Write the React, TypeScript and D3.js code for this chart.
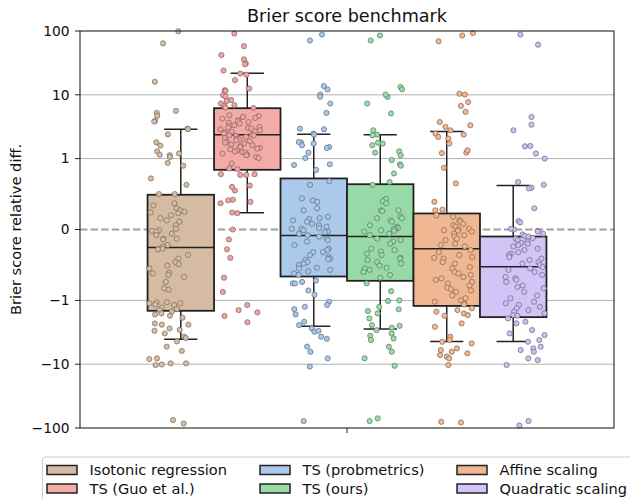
import React from "react";
import * as d3 from "d3";

// methods (hue order) and their pastel colours
const methods = [
  "Isotonic regression",
  "TS (Guo et al.)",
  "TS (probmetrics)",
  "TS (ours)",
  "Affine scaling",
  "Quadratic scaling",
];
const palette = ["#debb9b", "#ff9f9b", "#a1c9f4", "#8de5a1", "#ffb482", "#d0bbff"];

// box statistics
const q1 = [-1.455, 0.842, -0.663, -0.724, -1.22, -1.83];
const medians = [-0.254, 2.36, -0.085, -0.099, -0.272, -0.526];
const q3 = [0.49, 6.17, 0.72, 0.639, 0.226, -0.099];
const whiskerLow = [-4.05, 0.236, -2.54, -2.82, -4.41, -4.41];
const whiskerHigh = [2.89, 21.8, 2.41, 2.36, 2.66, 0.62];

// strip points (relative diff per dataset)
const isotonic = [
  99, 64, 16, 5.6, 5.2, 4.7, 3.9, 3.8, 2.95, 2.9, 2.4, 1.8, 1.6, 1.3, 1.2, 1.15, 1.13, 1.06, 0.94, 0.9, 0.72,
  0.63, 0.5, 0.5, 0.37, 0.34, 0.3, 0.27, 0.25, 0.24, 0.23, 0.2, 0.16, 0.13, 0.11, 0.06, 0.01, -0.01, -0.02,
  -0.03, -0.06, -0.08, -0.13, -0.13, -0.14, -0.22, -0.24, -0.27, -0.28, -0.36, -0.41, -0.46, -0.49, -0.51,
  -0.55, -0.61, -0.62, -0.64, -0.67, -0.74, -0.83, -0.85, -1.07, -1.07, -1.11, -1.11, -1.16, -1.18, -1.3,
  -1.37, -1.42, -1.5, -1.6, -1.66, -1.74, -1.87, -2.3, -2.4, -2.4, -2.75, -2.9, -3.0, -3.3, -3.7, -3.9, -4.4,
  -5.3, -6.2, -8.1, -8.3, -9.7, -9.7, -10.1, -10.3, -75, -85,
];
const tsGuo = [
  91, 58, 42, 36, 31, 30, 24, 21.5, 20.7, 17, 12.5, 11.8, 11.5, 9.9, 9.4, 8.3, 8.0, 7.3, 6.9, 6.7, 6.3, 6.2,
  4.78, 4.66, 4.5, 4.34, 4.24, 3.99, 3.85, 3.75, 3.66, 3.54, 3.33, 3.25, 3.14, 3.06, 3.02, 2.95, 2.88, 2.78,
  2.68, 2.62, 2.56, 2.46, 2.38, 2.32, 2.32, 2.27, 2.19, 2.11, 2.06, 2.01, 1.94, 1.87, 1.82, 1.78, 1.72, 1.66,
  1.62, 1.58, 1.52, 1.47, 1.43, 1.4, 1.35, 1.3, 1.27, 1.24, 1.2, 1.16, 1.13, 1.06, 1.02, 0.93, 0.86, 0.85,
  0.77, 0.77, 0.78, 0.78, 0.62, 0.55, 0.6, 0.39, 0.42, 0.37, 0.41, 0.24, 0.23, 0.0, -0.14, -0.28, -0.4,
  -0.68, -0.88, -1.18, -1.42, -1.54, -1.76, -2.2,
];
const tsProbmetrics = [
  88, 71, 13.7, 12.1, 10.1, 9.3, 7.3, 5.2, 2.95, 2.88, 2.46, 2.38, 1.78, 1.82, 1.72, 1.62, 1.52, 1.47, 1.24,
  1.02, 0.92, 0.91, 0.84, 0.68, 0.63, 0.44, 0.41, 0.39, 0.3, 0.27, 0.18, 0.16, 0.15, 0.13, 0.11, 0.08, 0.06,
  0.04, 0.02, 0.01, 0.01, -0.01, -0.03, -0.04, -0.06, -0.08, -0.1, -0.13, -0.15, -0.17, -0.22, -0.27, -0.29,
  -0.32, -0.32, -0.36, -0.39, -0.41, -0.42, -0.43, -0.46, -0.48, -0.5, -0.54, -0.55, -0.57, -0.59, -0.62,
  -0.64, -0.76, -0.76, -0.86, -0.92, -0.74, -0.72, -1.05, -1.18, -1.26, -1.37, -1.66, -2.16, -2.44, -2.75,
  -3.1, -3.0, -3.7, -4.0, -5.3, -6.4, -8.1, -10.9, -78,
];
const tsOurs = [
  85, 71, 13.3, 12.2, 9.3, 10.1, 7.3, 5.1, 2.78, 2.38, 2.32, 1.78, 1.72, 1.62, 1.3, 1.24, 1.13, 0.98, 0.92,
  0.9, 0.79, 0.67, 0.63, 0.43, 0.4, 0.37, 0.27, 0.26, 0.27, 0.18, 0.16, 0.16, 0.13, 0.11, 0.06, 0.04, 0.02,
  0.01, 0.005, -0.01, -0.02, -0.03, -0.06, -0.08, -0.13, -0.15, -0.17, -0.2, -0.27, -0.29, -0.31, -0.34,
  -0.36, -0.4, -0.41, -0.43, -0.46, -0.48, -0.51, -0.54, -0.55, -0.57, -0.6, -0.64, -0.68, -0.76, -0.87,
  -1.0, -1.02, -1.26, -1.38, -1.47, -1.6, -1.92, -2.44, -2.5, -2.68, -2.92, -3.29, -3.58, -3.94, -4.18,
  -5.32, -6.37, -8.1, -10.6, -70.6, -78,
];
const affine = [
  93, 85, 69, 10.4, 10.1, 7.7, 6.7, 5.4, 3.75, 3.33, 3.14, 2.78, 2.46, 2.38, 2.19, 2.06, 1.72, 1.24, 1.22,
  1.35, 0.87, 0.65, 0.39, 0.28, 0.27, 0.2, 0.18, 0.13, 0.11, 0.08, 0.06, 0.04, 0.01, 0.0, -0.01, -0.02,
  -0.03, -0.06, -0.08, -0.1, -0.13, -0.15, -0.2, -0.22, -0.24, -0.29, -0.32, -0.36, -0.39, -0.4, -0.41,
  -0.46, -0.48, -0.53, -0.55, -0.6, -0.62, -0.64, -0.67, -0.69, -0.71, -0.74, -0.76, -0.79, -0.82, -0.84,
  -0.86, -0.88, -0.93, -0.97, -1.0, -1.05, -1.11, -1.16, -1.33, -1.42, -1.5, -1.6, -1.7, -1.74, -2.59, -2.29,
  -3.71, -4.18, -4.45, -4.72, -5.65, -6.0, -6.37, -6.76, -7.18, -7.62, -8.1, -10.3, -80, -82,
];
const quadratic = [
  88, 61, 4.5, 3.4, 2.78, 1.58, 1.56, 1.2, 1.0, 0.67, 0.63, 0.59, 0.58, 0.3, 0.12, 0.1, 0.0, -0.02, 0.01,
  -0.03, -0.06, -0.07, -0.09, -0.1, -0.12, -0.13, -0.15, -0.17, -0.19, -0.2, -0.22, -0.24, -0.27, -0.29,
  -0.32, -0.34, -0.36, -0.39, -0.41, -0.43, -0.46, -0.48, -0.5, -0.53, -0.55, -0.57, -0.6, -0.64, -0.67,
  -0.69, -0.71, -0.74, -0.79, -0.81, -0.83, -0.88, -0.93, -0.97, -1.05, -1.11, -1.18, -1.26, -1.33, -1.42,
  -1.5, -1.6, -1.7, -1.74, -1.92, -2.16, -2.29, -2.92, -3.29, -3.49, -4.18, -4.45, -5.32, -5.65, -6.0, -6.37,
  -8.1, -8.6, -10.3, -78, -91,
];
const seriesPoints = [isotonic, tsGuo, tsProbmetrics, tsOurs, affine, quadratic];

const yTicks = [-100, -10, -1, 0, 1, 10, 100];
const yGrid = [-10, -1, 1, 10];

const WIDTH = 630;
const HEIGHT = 499;
const MARGIN = { top: 31, right: 16, bottom: 71, left: 80 };
const FONT = "DejaVu Sans, sans-serif";

// matplotlib-style symlog (linthresh 1, linscale 1, base 10)
const LINSCALE = 1 / (1 - 1 / 10);
const symlog = (v: number) => {
  const a = Math.abs(v);
  return a <= 1 ? v * LINSCALE : Math.sign(v) * (LINSCALE + Math.log10(a));
};

const fmtTick = (v: number) => (v < 0 ? "\u2212" + Math.abs(v) : String(v));

const App = () => {
  const x0 = MARGIN.left;
  const x1 = WIDTH - MARGIN.right;
  const yTop = MARGIN.top;
  const yBot = HEIGHT - MARGIN.bottom;

  const yLin = d3.scaleLinear().domain([symlog(-100), symlog(100)]).range([yBot, yTop]);
  const y = (v: number) => yLin(symlog(v));

  const xOuter = d3.scaleLinear().domain([-0.5, 0.5]).range([x0, x1]);
  const boxBand = d3.scaleBand().domain(methods).range([xOuter(-0.3735), xOuter(0.3735)]);
  const stripBand = d3.scaleBand().domain(methods).range([xOuter(-0.4), xOuter(0.4)]);
  const jitterPx = xOuter(0.037) - xOuter(0);

  const boxColors = palette.map((c) => {
    const h = d3.hsl(c);
    h.s *= 0.75;
    return h.formatHex();
  });

  const rand = d3.randomUniform.source(d3.randomLcg(0.42))(-1, 1);

  const strips = seriesPoints.map((vals, i) => {
    const cx = stripBand(methods[i])! + stripBand.bandwidth() / 2;
    return vals.map((v) => ({ x: cx + rand() * jitterPx, y: y(v) }));
  });

  const legendCols = [47, 260, 457];
  const legendRows = [470, 488.5];

  return (
    <svg
      width={WIDTH}
      height={HEIGHT}
      style={{ position: "absolute", left: 0, top: 0, background: "#fff" }}
      fontFamily={FONT}
    >
      <rect width={WIDTH} height={HEIGHT} fill="#fff" />

      {/* grid */}
      {yGrid.map((t) => (
        <line key={t} x1={x0} x2={x1} y1={y(t)} y2={y(t)} stroke="#b0b0b0" strokeWidth={1} />
      ))}
      <line
        x1={x0}
        x2={x1}
        y1={y(0)}
        y2={y(0)}
        stroke="#a0a0a0"
        strokeWidth={2}
        strokeDasharray="7.4,3.2"
      />

      {/* boxes */}
      {methods.map((m, i) => {
        const bx = boxBand(m)!;
        const bw = boxBand.bandwidth();
        const cx = bx + bw / 2;
        const capW = bw / 2;
        return (
          <g key={m} stroke="#222" strokeWidth={1.5}>
            <line x1={cx} x2={cx} y1={y(q3[i])} y2={y(whiskerHigh[i])} />
            <line x1={cx} x2={cx} y1={y(q1[i])} y2={y(whiskerLow[i])} />
            <line x1={cx - capW / 2} x2={cx + capW / 2} y1={y(whiskerHigh[i])} y2={y(whiskerHigh[i])} />
            <line x1={cx - capW / 2} x2={cx + capW / 2} y1={y(whiskerLow[i])} y2={y(whiskerLow[i])} />
            <rect
              x={bx}
              y={y(q3[i])}
              width={bw}
              height={y(q1[i]) - y(q3[i])}
              fill={boxColors[i]}
              strokeWidth={1.8}
            />
            <line x1={bx} x2={bx + bw} y1={y(medians[i])} y2={y(medians[i])} />
          </g>
        );
      })}

      {/* strip points */}
      {strips.map((pts, i) =>
        pts.map((p, j) => (
          <circle
            key={`${i}-${j}`}
            cx={p.x}
            cy={p.y}
            r={2.6}
            fill={palette[i]}
            stroke="#6a6a6a"
            strokeWidth={0.7}
          />
        ))
      )}

      {/* spines */}
      <rect x={x0} y={yTop} width={x1 - x0} height={yBot - yTop} fill="none" stroke="#222" strokeWidth={1.1} />

      {/* y axis */}
      {yTicks.map((t) => (
        <g key={t}>
          <line x1={x0 - 5} x2={x0} y1={y(t)} y2={y(t)} stroke="#222" strokeWidth={1} />
          <text x={x0 - 10.5} y={y(t)} dy="0.35em" textAnchor="end" fontSize={13.8} fill="#111">
            {fmtTick(t)}
          </text>
        </g>
      ))}
      <text
        transform={`translate(20.5, ${(yTop + yBot) / 2}) rotate(-90)`}
        textAnchor="middle"
        fontSize={14.6}
        fill="#111"
      >
        Brier score relative diff.
      </text>

      {/* x axis tick */}
      <line x1={xOuter(0)} x2={xOuter(0)} y1={yBot} y2={yBot + 5} stroke="#222" strokeWidth={1} />

      {/* title */}
      <text x={xOuter(0)} y={21.7} textAnchor="middle" fontSize={17.6} fill="#111">
        Brier score benchmark
      </text>

      {/* legend */}
      <rect
        x={42.5}
        y={457}
        width={620}
        height={80}
        rx={3}
        fill="#fff"
        fillOpacity={0.8}
        stroke="#cccccc"
        strokeWidth={1}
      />
      {methods.map((m, i) => {
        const col = Math.floor(i / 2);
        const row = i % 2;
        const lx = legendCols[col];
        const ly = legendRows[row];
        return (
          <g key={m}>
            <rect x={lx} y={ly - 4.5} width={30} height={9} fill={boxColors[i]} stroke="#222" strokeWidth={1.5} />
            <text x={lx + 42.5} y={ly} dy="0.35em" fontSize={14.6} fill="#111">
              {m}
            </text>
          </g>
        );
      })}
    </svg>
  );
};

export default App;
